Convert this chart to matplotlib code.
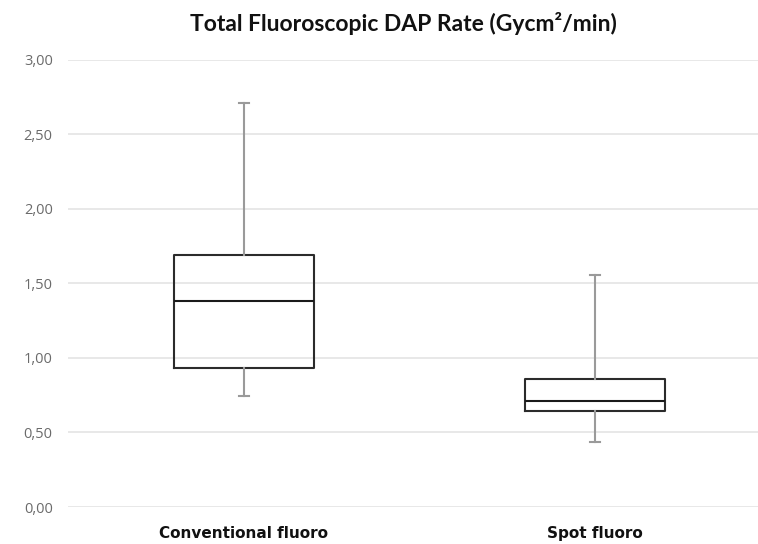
import matplotlib
matplotlib.use("Agg")
from matplotlib import pyplot as plt
from matplotlib.ticker import FuncFormatter

# box plot summary values (Gycm²/min)
groups = ["Conventional fluoro", "Spot fluoro"]
whisker_low = [0.745, 0.436]
q1 = [0.933, 0.644]
median = [1.383, 0.711]
q3 = [1.691, 0.859]
whisker_high = [2.711, 1.557]

stats = []
for i, name in enumerate(groups):
    stats.append({"label": name, "whislo": whisker_low[i], "q1": q1[i],
                  "med": median[i], "q3": q3[i], "whishi": whisker_high[i]})

fig = plt.figure(figsize=(7.58, 5.44), dpi=100)
ax = fig.add_axes([0.0897, 0.068, 0.9103, 0.822])

ax.bxp(stats, positions=[1, 2], widths=0.40, showfliers=False, capwidths=0.03,
       boxprops=dict(color="#2b2b2b", linewidth=1.5),
       medianprops=dict(color="#1a1a1a", linewidth=1.5),
       whiskerprops=dict(color="#9a9a9a", linewidth=1.5),
       capprops=dict(color="#9a9a9a", linewidth=1.5))

ax.set_xlim(0.499, 2.464)
ax.set_ylim(0, 3.0)
ax.set_yticks([0, 0.5, 1.0, 1.5, 2.0, 2.5, 3.0])
ax.yaxis.set_major_formatter(FuncFormatter(lambda v, p: f"{v:.2f}".replace(".", ",")))
ax.grid(axis="y", color="#e6e6e6", linewidth=1.3)
ax.set_axisbelow(True)
for s in ax.spines.values():
    s.set_visible(False)
ax.tick_params(axis="y", length=0, pad=11, labelsize=10.5, labelcolor="#6b6b6b")
ax.tick_params(axis="x", length=0, pad=14)
for lbl in ax.get_yticklabels():
    lbl.set_family("Open Sans")
ax.set_xticklabels(groups, family=["Liberation Sans Narrow", "DejaVu Sans"],
                   fontweight="bold", fontsize=11, color="#111111")

fig.text(0.532, 0.943, "Total Fluoroscopic DAP Rate (Gycm²/min)", ha="center",
         va="baseline", fontsize=16.5, fontweight="bold", family="Lato",
         color="#111111")

plt.savefig("out.png", dpi=100)
